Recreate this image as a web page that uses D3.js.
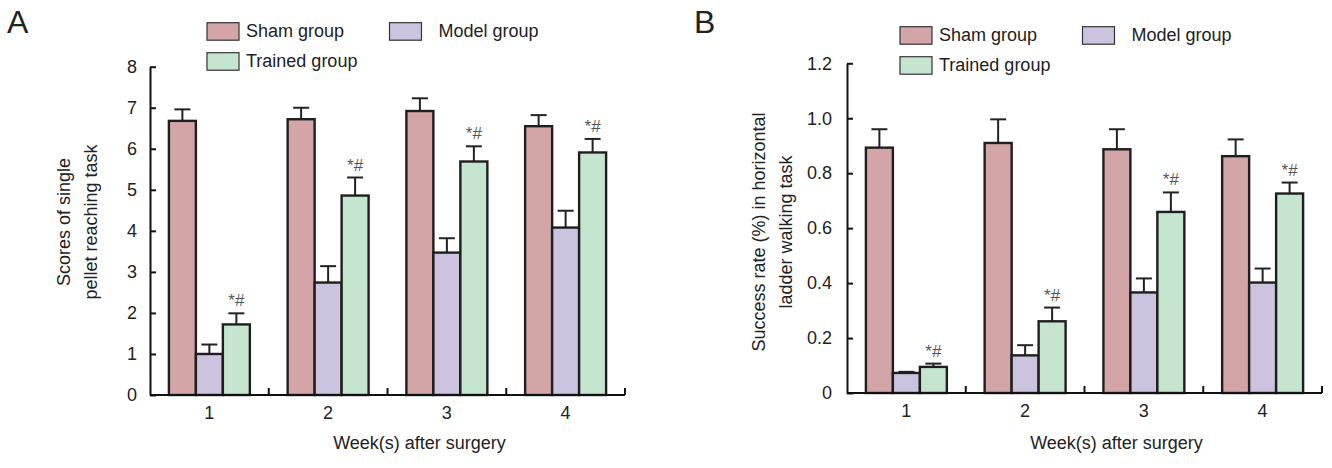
<!DOCTYPE html>
<html>
<head>
<meta charset="utf-8">
<script src="https://cdn.jsdelivr.net/npm/d3@7"></script>
<style>
  body { margin: 0; background: #fff; }
  svg { font-family: "Liberation Sans", Arial, sans-serif; }
</style>
</head>
<body>
<svg id="chart" width="1332" height="468"></svg>
<script>
// data
const weeks = ["1", "2", "3", "4"];
const groups = ["Sham group", "Model group", "Trained group"];
const colors = ["#d3a5a7", "#ccc3de", "#c6e5cf"];

// panel A: single pellet reaching scores (mean, error)
const shamA = [6.68, 6.72, 6.92, 6.55];
const shamAErr = [0.28, 0.28, 0.31, 0.27];
const modelA = [1.0, 2.74, 3.47, 4.08];
const modelAErr = [0.23, 0.40, 0.35, 0.41];
const trainedA = [1.72, 4.86, 5.69, 5.91];
const trainedAErr = [0.27, 0.44, 0.37, 0.33];
const ticksA = [0, 1, 2, 3, 4, 5, 6, 7, 8];

// panel B: ladder walking success rate
const shamB = [0.893, 0.91, 0.887, 0.862];
const shamBErr = [0.067, 0.086, 0.073, 0.061];
const modelB = [0.073, 0.137, 0.366, 0.402];
const modelBErr = [0.004, 0.037, 0.051, 0.051];
const trainedB = [0.095, 0.261, 0.659, 0.726];
const trainedBErr = [0.012, 0.05, 0.071, 0.04];
const ticksB = [0, 0.2, 0.4, 0.6, 0.8, 1.0, 1.2];

const svg = d3.select("#chart");

function drawPanel(opt) {
    const g = svg.append("g");
    const x = d3.scaleBand().domain(weeks).range([opt.x0, opt.x1]);
    const xi = d3.scaleBand().domain(groups).range([0, x.bandwidth()]).paddingOuter(0.7);
    const y = d3.scaleLinear().domain([0, opt.max]).range([opt.base, opt.top]);

    const series = [opt.sham, opt.model, opt.trained];
    const errs = [opt.shamErr, opt.modelErr, opt.trainedErr];
    const rows = [];
    weeks.forEach((w, i) => {
        groups.forEach((gr, k) => {
            rows.push({ week: w, group: gr, k: k, v: series[k][i], e: errs[k][i] });
        });
    });

    // error bars (drawn under the bars)
    const eb = g.append("g").attr("stroke", "#222").attr("stroke-width", 2);
    rows.forEach(d => {
        const cx = x(d.week) + xi(d.group) + xi.bandwidth() / 2;
        eb.append("line").attr("x1", cx).attr("x2", cx)
            .attr("y1", y(d.v)).attr("y2", y(d.v + d.e));
        eb.append("line").attr("x1", cx - 8).attr("x2", cx + 8)
            .attr("y1", y(d.v + d.e)).attr("y2", y(d.v + d.e));
    });

    // bars
    g.append("g").selectAll("rect")
        .data(rows)
        .join("rect")
        .attr("x", d => x(d.week) + xi(d.group))
        .attr("y", d => y(d.v))
        .attr("width", xi.bandwidth())
        .attr("height", d => y(0) - y(d.v))
        .attr("fill", d => colors[d.k])
        .attr("stroke", "#1e1e1e")
        .attr("stroke-width", 2.4);

    // significance marks over trained group
    g.append("g").selectAll("text")
        .data(rows.filter(d => d.k === 2))
        .join("text")
        .attr("x", d => x(d.week) + xi(d.group) + xi.bandwidth() / 2)
        .attr("y", d => y(d.v + d.e) - 7)
        .attr("text-anchor", "middle")
        .attr("font-size", 17)
        .attr("fill", "#555")
        .text("*#");

    // y axis
    const ya = g.append("g")
        .attr("transform", `translate(${opt.x0},0)`)
        .call(d3.axisLeft(y).tickValues(opt.ticks).tickFormat(opt.fmt)
            .tickSizeInner(-6).tickSizeOuter(0).tickPadding(opt.tpad));
    ya.select(".domain").attr("stroke", "#111").attr("stroke-width", 2);
    ya.selectAll(".tick line").attr("stroke", "#111").attr("stroke-width", 2);
    ya.selectAll("text").attr("font-size", 18).attr("fill", "#222")
        .attr("font-family", "Liberation Sans, Arial, sans-serif");

    // x axis with boundary ticks pointing up
    const xa = g.append("g").attr("transform", `translate(0,${opt.base})`);
    xa.append("line").attr("x1", opt.x0).attr("x2", opt.x1)
        .attr("stroke", "#111").attr("stroke-width", 2);
    xa.selectAll(".bt")
        .data(weeks)
        .join("line")
        .attr("x1", d => x(d) + x.bandwidth()).attr("x2", d => x(d) + x.bandwidth())
        .attr("y1", 0).attr("y2", -7)
        .attr("stroke", "#111").attr("stroke-width", 2);
    xa.selectAll("text")
        .data(weeks)
        .join("text")
        .attr("x", d => x(d) + x.bandwidth() / 2)
        .attr("y", 24)
        .attr("text-anchor", "middle")
        .attr("font-size", 18)
        .attr("fill", "#222")
        .text(d => d);

    // axis titles
    svg.append("text")
        .attr("x", (opt.x0 + opt.x1) / 2 + 32)
        .attr("y", 449)
        .attr("text-anchor", "middle")
        .attr("font-size", 18)
        .attr("fill", "#222")
        .text("Week(s) after surgery");

    const yt = svg.append("text")
        .attr("transform", `translate(${opt.ytx},${opt.yty}) rotate(-90)`)
        .attr("text-anchor", "middle")
        .attr("font-size", 18)
        .attr("fill", "#222");
    opt.ytitle.forEach((line, i) => {
        yt.append("tspan").attr("x", 0).attr("dy", i === 0 ? 0 : 27).text(line);
    });

    // legend
    const lg = svg.append("g");
    const pos = [[opt.lx, opt.ly, 39], [opt.lx + 182.5, opt.ly, 49], [opt.lx, opt.ly + 30, 39]];
    groups.forEach((gr, k) => {
        lg.append("rect")
            .attr("x", pos[k][0]).attr("y", pos[k][1])
            .attr("width", 32).attr("height", 17.5)
            .attr("fill", colors[k]).attr("stroke", "#333").attr("stroke-width", 1.2);
        lg.append("text")
            .attr("x", pos[k][0] + pos[k][2]).attr("y", pos[k][1] + 14.5)
            .attr("font-size", 18).attr("fill", "#222")
            .text(gr);
    });

    // panel letter
    svg.append("text")
        .attr("x", opt.letterX).attr("y", 33)
        .attr("font-size", 32).attr("fill", "#222")
        .text(opt.letter);
}

drawPanel({
    letter: "A", letterX: 7,
    x0: 150, x1: 625, base: 395, top: 66.7, max: 8,
    sham: shamA, shamErr: shamAErr, model: modelA, modelErr: modelAErr,
    trained: trainedA, trainedErr: trainedAErr,
    ticks: ticksA, fmt: d3.format("d"), tpad: 13,
    ytitle: ["Scores of single", "pellet reaching task"], ytx: 69.5, yty: 222,
    lx: 207, ly: 22.7
});

drawPanel({
    letter: "B", letterX: 694,
    x0: 847, x1: 1322, base: 393, top: 63.3, max: 1.2,
    sham: shamB, shamErr: shamBErr, model: modelB, modelErr: modelBErr,
    trained: trainedB, trainedErr: trainedBErr,
    ticks: ticksB, fmt: d => d === 0 ? "0" : d3.format(".1f")(d), tpad: 15,
    ytitle: ["Success rate (%) in horizontal", "ladder walking task"], ytx: 765, yty: 232,
    lx: 900, ly: 26.7
});
</script>
</body>
</html>
